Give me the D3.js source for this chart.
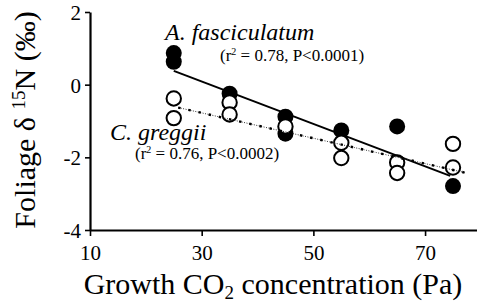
<!DOCTYPE html>
<html>
<head>
<meta charset="utf-8">
<script src="https://cdn.jsdelivr.net/npm/d3@7"></script>
<style>
  body { margin: 0; background: #fff; }
  svg text { font-family: "Liberation Serif", Tinos, "Times New Roman", "DejaVu Serif", serif; fill: #000; }
</style>
</head>
<body>
<svg id="chart" width="477" height="303"></svg>
<script>
// CO2 levels (Pa) and foliage d15N readings
var afascX = [25, 25, 35, 45, 45, 55, 65, 75];
var afascY = [0.87, 0.63, -0.25, -0.88, -1.35, -1.26, -1.15, -2.79];

var cgregX = [25, 25, 35, 35, 45, 55, 55, 65, 65, 75, 75];
var cgregY = [-0.38, -0.92, -0.49, -0.82, -1.15, -1.6, -2.02, -2.14, -2.43, -1.63, -2.28];

// regression line end points
var afascFitX = [25, 74.5];
var afascFitY = [0.38, -2.51];
var cgregFitX = [25.8, 77.1];
var cgregFitY = [-0.63, -2.42];

var xTicks = [10, 30, 50, 70];
var yTicks = [2, 0, -2, -4];

var svg = d3.select("#chart");

var x = d3.scaleLinear().domain([10, 79.3]).range([90, 477]);
var y = d3.scaleLinear().domain([-4, 2]).range([230, 12]);

// axes
svg.append("g")
    .attr("transform", "translate(0,230)")
    .call(d3.axisBottom(x).tickValues(xTicks).tickSize(6).tickSizeOuter(0).tickPadding(9)
      .tickFormat(function(d) { return String(d); }))
    .call(function(g) {
      g.attr("font-family", null);
      g.select(".domain").attr("stroke-width", 2.2);
      g.selectAll(".tick line").attr("stroke-width", 1.6);
      g.selectAll(".tick text").attr("font-size", 21);
    });

svg.append("g")
    .attr("transform", "translate(90,0)")
    .call(d3.axisLeft(y).tickValues(yTicks).tickSize(5).tickSizeOuter(0).tickPadding(4)
      .tickFormat(function(d) { return String(d); }))
    .call(function(g) {
      g.attr("font-family", null);
      g.select(".domain").attr("stroke-width", 2.2);
      g.selectAll(".tick line").attr("stroke-width", 1.6);
      g.selectAll(".tick text").attr("font-size", 21).attr("dy", "0.36em");
    });

// points: filled first, open circles on top
svg.append("g").selectAll("circle")
  .data(afascX)
  .enter().append("circle")
    .attr("cx", function(d) { return x(d); })
    .attr("cy", function(d, i) { return y(afascY[i]); })
    .attr("r", 8)
    .attr("fill", "#000");

svg.append("g").selectAll("circle")
  .data(cgregX)
  .enter().append("circle")
    .attr("cx", function(d) { return x(d); })
    .attr("cy", function(d, i) { return y(cgregY[i]); })
    .attr("r", 7.2)
    .attr("fill", "#fff")
    .attr("stroke", "#000")
    .attr("stroke-width", 2);

// fit lines
var line = d3.line()
    .x(function(d) { return x(d[0]); })
    .y(function(d) { return y(d[1]); });

svg.append("path")
    .datum(d3.zip(afascFitX, afascFitY))
    .attr("d", line)
    .attr("fill", "none")
    .attr("stroke", "#000")
    .attr("stroke-width", 2);

var cgLine = d3.zip(cgregFitX, cgregFitY);
svg.append("path")
    .datum(cgLine)
    .attr("d", line)
    .attr("fill", "none")
    .attr("stroke", "#333")
    .attr("stroke-width", 1)
    .attr("stroke-dasharray", "1,1.5");
svg.append("path")
    .datum(cgLine)
    .attr("d", line)
    .attr("fill", "none")
    .attr("stroke", "#000")
    .attr("stroke-width", 2.4)
    .attr("stroke-dasharray", "2.4,8");

// species labels
svg.append("text")
    .attr("x", 165).attr("y", 40)
    .attr("font-size", 24).attr("font-style", "italic")
    .text("A. fasciculatum");

var s1 = svg.append("text").attr("x", 220).attr("y", 61).attr("font-size", 17);
s1.append("tspan").text("(r");
s1.append("tspan").attr("font-size", 10).attr("dy", -6).text("2");
s1.append("tspan").attr("dy", 6).text(" = 0.78, P<0.0001)");

svg.append("text")
    .attr("x", 110).attr("y", 140)
    .attr("font-size", 24).attr("font-style", "italic")
    .text("C. greggii");

var s2 = svg.append("text").attr("x", 135).attr("y", 159).attr("font-size", 17);
s2.append("tspan").text("(r");
s2.append("tspan").attr("font-size", 10).attr("dy", -6).text("2");
s2.append("tspan").attr("dy", 6).text(" = 0.76, P<0.0002)");

// axis titles
var xt = svg.append("text")
    .attr("x", 273).attr("y", 294)
    .attr("text-anchor", "middle")
    .attr("font-size", 30);
xt.append("tspan").text("Growth CO");
xt.append("tspan").attr("font-size", 19).attr("dy", 5).text("2");
xt.append("tspan").attr("dy", -5).text(" concentration (Pa)");

var yt = svg.append("text")
    .attr("transform", "translate(35,120) rotate(-90)")
    .attr("text-anchor", "middle")
    .attr("font-size", 30);
yt.append("tspan").text("Foliage δ ");
yt.append("tspan").attr("font-size", 19).attr("dy", -10).text("15");
yt.append("tspan").attr("dy", 10).text("N (‰)");
</script>
</body>
</html>
